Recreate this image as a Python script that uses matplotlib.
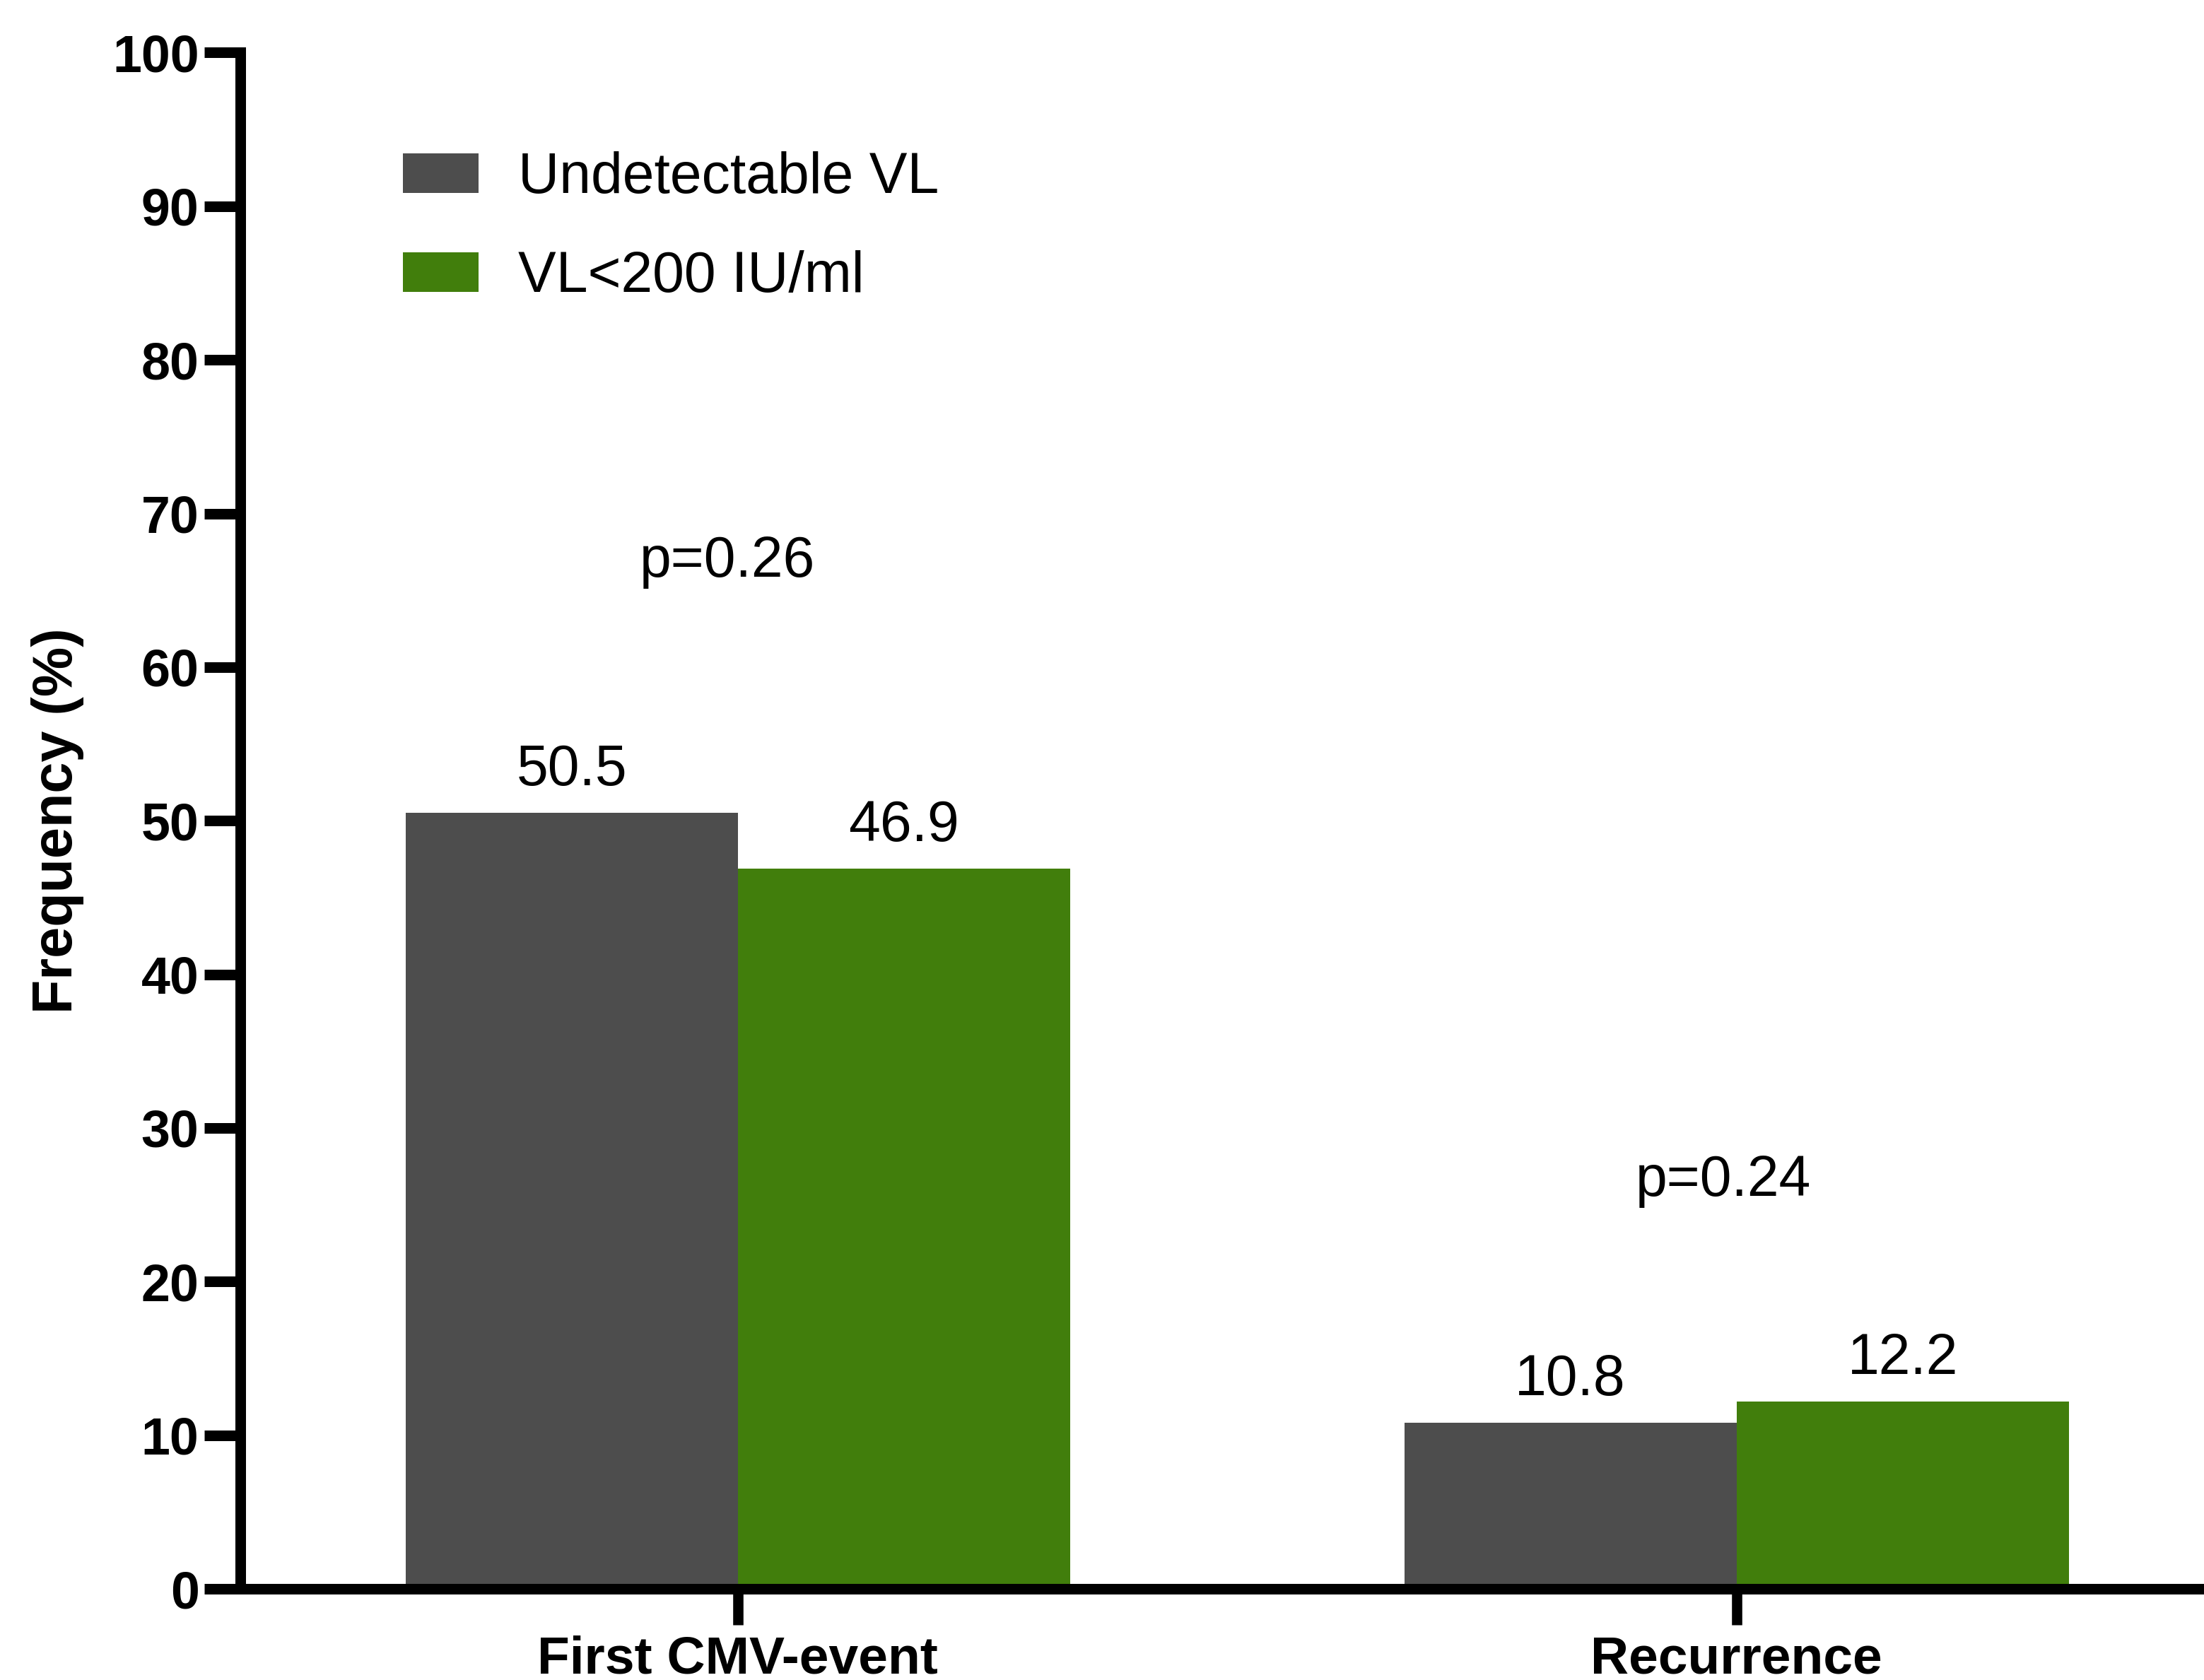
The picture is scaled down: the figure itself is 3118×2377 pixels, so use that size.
import matplotlib.pyplot as plt
import numpy as np

plt.rcParams['font.family'] = ['Liberation Sans', 'DejaVu Sans']

# data
categories = ["First CMV-event", "Recurrence"]
series_names = ["Undetectable VL", "VL<200 IU/ml"]
undetectable = [50.5, 10.8]
below_200 = [46.9, 12.2]
p_labels = ["p=0.26", "p=0.24"]
y_ticks = list(range(0, 101, 10))

GRAY = "#4d4d4d"
GREEN = "#417e0c"


def main():
    fig = plt.figure(figsize=(31.18, 23.77), dpi=100)
    ax = fig.add_axes([0.1090, 0.05427, 0.8910, 0.91439])

    x = np.arange(len(categories))
    width = 0.3326
    ax.bar(x - width / 2, undetectable, width, color=GRAY, label=series_names[0])
    ax.bar(x + width / 2, below_200, width, color=GREEN, label=series_names[1])

    # value labels above bars (baseline a bit above the top)
    for xs, vals in ((x - width / 2, undetectable), (x + width / 2, below_200)):
        for xi, v in zip(xs, vals):
            ax.text(xi, v + 1.8, f"{v:.1f}", ha="center", va="baseline", fontsize=58)

    # p-values over each group
    p_pos = [(-0.01, 65.9), (0.987, 25.6)]
    for (px, py), lab in zip(p_pos, p_labels):
        ax.text(px, py, lab, ha="center", va="baseline", fontsize=58)

    ax.set_xlim(-0.498, 1.468)
    ax.set_ylim(0, 100)
    ax.set_yticks(y_ticks)
    ax.set_xticks(x)
    ax.set_xticklabels(categories, fontsize=54, fontweight="bold")
    for lab in ax.get_yticklabels():
        lab.set_fontsize(53)
        lab.set_fontweight("bold")

    for side in ("top", "right"):
        ax.spines[side].set_visible(False)
    for side in ("left", "bottom"):
        ax.spines[side].set_linewidth(10.8)
        ax.spines[side].set_capstyle("projecting")
    ax.tick_params(axis="y", length=37, width=10.8, pad=5)
    ax.tick_params(axis="x", length=37, width=10.5, pad=10)

    ax.set_ylabel("Frequency (%)", fontsize=57, fontweight="bold")
    ax.yaxis.set_label_coords(-0.0795, 0.5)

    ax.legend(loc="upper left", bbox_to_anchor=(0.1828, 0.9100),
              bbox_transform=fig.transFigure, frameon=False, fontsize=58,
              borderpad=0, borderaxespad=0, handlelength=1.33,
              handleheight=0.7, handletextpad=0.69, labelspacing=0.80)

    fig.savefig("out.png", dpi=100)


if __name__ == '__main__':
    main()
